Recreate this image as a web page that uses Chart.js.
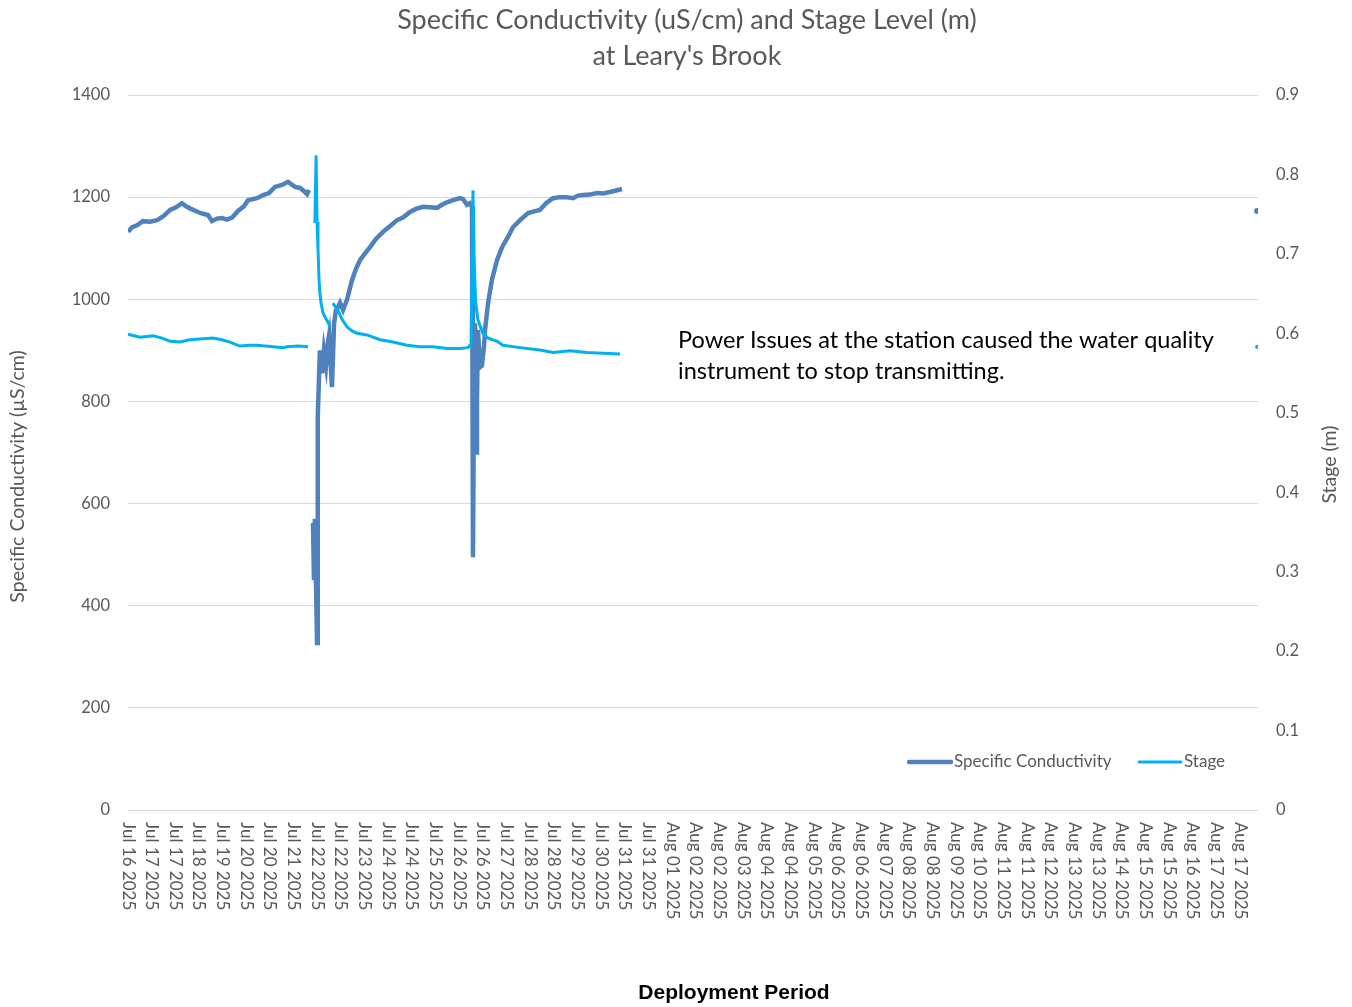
<!DOCTYPE html>
<html>
<head>
<meta charset="utf-8">
<title>Specific Conductivity and Stage Level at Leary's Brook</title>
<script src="https://cdn.jsdelivr.net/npm/chart.js@4.4.1/dist/chart.umd.min.js"></script>
<style>
    html, body { margin: 0; padding: 0; background: #ffffff; }
</style>
</head>
<body>
<canvas id="myChart" width="1352" height="1007"></canvas>
<script>
// x values are positions along the date axis, in label steps (0 = first label)
const tickLabels = [
    "Jul 16 2025", "Jul 17 2025", "Jul 17 2025", "Jul 18 2025", "Jul 19 2025", "Jul 20 2025",
    "Jul 20 2025", "Jul 21 2025", "Jul 22 2025", "Jul 22 2025", "Jul 23 2025", "Jul 24 2025",
    "Jul 24 2025", "Jul 25 2025", "Jul 26 2025", "Jul 26 2025", "Jul 27 2025", "Jul 28 2025",
    "Jul 28 2025", "Jul 29 2025", "Jul 30 2025", "Jul 31 2025", "Jul 31 2025", "Aug 01 2025",
    "Aug 02 2025", "Aug 02 2025", "Aug 03 2025", "Aug 04 2025", "Aug 04 2025", "Aug 05 2025",
    "Aug 06 2025", "Aug 06 2025", "Aug 07 2025", "Aug 08 2025", "Aug 08 2025", "Aug 09 2025",
    "Aug 10 2025", "Aug 11 2025", "Aug 11 2025", "Aug 12 2025", "Aug 13 2025", "Aug 13 2025",
    "Aug 14 2025", "Aug 15 2025", "Aug 15 2025", "Aug 16 2025", "Aug 17 2025", "Aug 17 2025"
]

const scTime = [
    0.00, 0.17, 0.38, 0.63, 0.93, 1.23, 1.48, 1.78, 2.03, 2.28, 2.45, 2.62, 3.04, 3.38, 3.55,
    3.76, 3.97, 4.18, 4.40, 4.65, 4.90, 5.07, 5.45, 5.71, 5.96, 6.21, 6.51, 6.76, 7.06, 7.27,
    7.48, 7.57, 7.65, 7.72,
    7.82, 7.86, 7.90, 7.99, 8.01, 8.03, 8.11, 8.20, 8.28, 8.37, 8.45, 8.50, 8.62, 8.71, 8.79,
    8.88, 8.96, 9.09, 9.26, 9.47, 9.64, 9.81, 10.02, 10.23, 10.48, 10.78, 11.07, 11.37, 11.62,
    11.92, 12.17, 12.47, 12.76, 13.06, 13.27, 13.48, 13.74, 14.03, 14.16, 14.33, 14.45, 14.54,
    14.58, 14.62, 14.67, 14.71, 14.75, 14.79, 14.88, 14.96, 15.05, 15.09, 15.22, 15.38, 15.60,
    15.81, 16.06, 16.27, 16.57, 16.91, 17.16, 17.41, 17.67, 17.96, 18.26, 18.51, 18.81, 19.02,
    19.23, 19.53, 19.82, 20.08, 20.37, 20.63, 20.88, 21.00,
    47.72
]
const scValues = [
    1132, 1141, 1145, 1153, 1152, 1155, 1162, 1175, 1180, 1188, 1182, 1178, 1169, 1165, 1153,
    1158, 1159, 1156, 1160, 1173, 1182, 1194, 1198, 1204, 1208, 1220, 1224, 1230, 1220, 1218,
    1210, 1206, 1214, null,
    562, 450, 570, 327, 724, 770, 900, 855, 900, 870, 916, 930, 828, 953, 979,
    985, 993, 979, 1000, 1038, 1060, 1077, 1090, 1102, 1118, 1132, 1143, 1155, 1160,
    1171, 1177, 1181, 1180, 1179, 1185, 1190, 1194, 1198, 1196, 1185, 1188, 1181,
    495, 800, 953, 700, 803, 940, 867, 870, 910, 940, 993, 1038, 1077,
    1102, 1122, 1141, 1155, 1169, 1172, 1175, 1188, 1198, 1200, 1200, 1198, 1203,
    1204, 1205, 1208, 1207, 1210, 1213, 1216, null,
    1173
]

const stageTime = [
    0.00, 0.25, 0.51, 1.06, 1.44, 1.78, 2.20, 2.62, 3.04, 3.59, 3.97, 4.31, 4.73, 5.17, 5.45,
    5.79, 6.13, 6.55, 6.72, 7.19, 7.61, 7.75,
    7.90, 7.95, 7.99, 8.03, 8.07, 8.11, 8.16, 8.24, 8.37, 8.45, 8.54, 8.60,
    8.66, 8.75, 8.88, 9.04, 9.26, 9.47, 9.68, 10.10, 10.65, 11.20, 11.79, 12.34, 12.89, 13.48,
    14.03, 14.37, 14.50,
    14.58, 14.62, 14.69, 14.79, 15.00, 15.22, 15.60, 15.85, 16.57, 17.41, 17.96, 18.68, 19.40,
    20.08, 20.80, 21.00,
    47.72
]
const stageValues = [
    0.599, 0.597, 0.595, 0.597, 0.594, 0.590, 0.589, 0.592, 0.593, 0.594, 0.592, 0.589, 0.584,
    0.585, 0.585, 0.584, 0.583, 0.582, 0.583, 0.584, 0.583, null,
    0.739, 0.824, 0.740, 0.707, 0.670, 0.651, 0.638, 0.626, 0.618, 0.614, 0.608, null,
    0.638, 0.634, 0.629, 0.618, 0.608, 0.603, 0.600, 0.598, 0.592, 0.589, 0.585, 0.583, 0.583,
    0.581, 0.581, 0.582, 0.587,
    0.780, 0.700, 0.640, 0.617, 0.600, 0.594, 0.590, 0.585, 0.582, 0.579, 0.576, 0.578, 0.576,
    0.575, 0.574, null,
    0.583
]

const titleLines = ["Specific Conductivity (uS/cm) and Stage Level (m)", "at Leary's Brook"]

function toPoints(times, values) {
    return times.map((t, i) => ({ x: t, y: values[i] }))
}

// Excel shows a marker only where a reading has no neighbours to connect to
function lonelyPointRadius(size) {
    return (context) => {
        const data = context.dataset.data
        const i = context.dataIndex
        const prev = data[i - 1]
        const next = data[i + 1]
        const lonely = (!prev || prev.y === null) && (!next || next.y === null)
        return lonely ? size : 0
    }
}

const textColor = "#595959"
const gridColor = "#d9d9d9"

const chartText = {
    id: "chartText",
    afterDraw(chart) {
        const ctx = chart.ctx
        const area = chart.chartArea
        const xScale = chart.scales.x
        const yScale = chart.scales.y
        ctx.save()
        ctx.textBaseline = "middle"

        // title, centred a little right of the canvas middle as in the original
        ctx.font = "27px Lato"
        ctx.fillStyle = textColor
        ctx.textAlign = "center"
        titleLines.forEach((line, i) => {
            ctx.fillText(line, chart.width / 2 + 11, 20 + i * 36)
        })

        // date labels, read top to bottom like the original
        ctx.font = "17px Lato"
        ctx.textAlign = "left"
        xScale.ticks.forEach((tick) => {
            ctx.save()
            ctx.translate(xScale.getPixelForValue(tick.value), area.bottom + 12)
            ctx.rotate(Math.PI / 2)
            ctx.fillText(tickLabels[tick.value], 0, 0)
            ctx.restore()
        })

        // axis titles
        ctx.font = "19.5px Lato"
        ctx.textAlign = "center"
        const midY = (area.top + area.bottom) / 2
        ctx.save()
        ctx.translate(18, midY + 24)
        ctx.rotate(-Math.PI / 2)
        ctx.fillText("Specific Conductivity (µS/cm)", 0, 0)
        ctx.restore()
        ctx.save()
        ctx.translate(area.right + 72, midY + 12)
        ctx.rotate(-Math.PI / 2)
        ctx.fillText("Stage (m)", 0, 0)
        ctx.restore()

        ctx.font = "bold 21px 'Liberation Sans'"
        ctx.fillStyle = "#000000"
        ctx.fillText("Deployment Period", (area.left + area.right) / 2 + 41, 993)

        // note about the outage
        ctx.font = "23.5px Lato"
        ctx.textAlign = "left"
        const noteX = xScale.getPixelForValue(23.25)
        const noteY = yScale.getPixelForValue(920)
        ctx.fillText("Power Issues at the station caused the water quality", noteX, noteY)
        ctx.fillText("instrument to stop transmitting.", noteX, noteY + 31)

        // legend in the lower right of the plot
        const legendY = area.bottom - 48
        const legendX = [area.right - 349, area.right - 119]
        chart.data.datasets.forEach((dataset, i) => {
            ctx.strokeStyle = dataset.borderColor
            ctx.lineWidth = dataset.borderWidth
            ctx.lineCap = "round"
            ctx.beginPath()
            ctx.moveTo(legendX[i], legendY)
            ctx.lineTo(legendX[i] + 42, legendY)
            ctx.stroke()
            ctx.font = "17px Lato"
            ctx.fillStyle = textColor
            ctx.fillText(dataset.label, legendX[i] + 45, legendY)
        })

        ctx.restore()
    }
}

new Chart(document.getElementById("myChart"), {
    type: "line",
    data: {
        datasets: [{
            label: "Specific Conductivity",
            data: toPoints(scTime, scValues),
            borderColor: "#4F81BD",
            backgroundColor: "#4F81BD",
            borderWidth: 4.5,
            pointRadius: lonelyPointRadius(3),
            pointBorderWidth: 0,
            yAxisID: "y",
            spanGaps: false,
            order: 2
        }, {
            label: "Stage",
            data: toPoints(stageTime, stageValues),
            borderColor: "#00B0F0",
            backgroundColor: "#00B0F0",
            borderWidth: 3,
            pointRadius: lonelyPointRadius(2),
            pointBorderWidth: 0,
            yAxisID: "y2",
            spanGaps: false,
            order: 1
        }]
    },
    options: {
        responsive: false,
        animation: false,
        devicePixelRatio: 1,
        layout: { padding: { top: 95 } },
        plugins: {
            legend: { display: false },
            tooltip: { enabled: false },
            title: { display: false }
        },
        scales: {
            x: {
                type: "linear",
                min: 0,
                max: 47.76,
                afterBuildTicks: (scale) => {
                    scale.ticks = tickLabels.map((label, i) => ({ value: i }))
                },
                afterFit: (scale) => { scale.height = 197 },
                ticks: { display: false },
                grid: { display: false },
                border: { display: false }
            },
            y: {
                position: "left",
                min: 0,
                max: 1400,
                afterFit: (scale) => { scale.width = 128 },
                ticks: {
                    stepSize: 200,
                    padding: 18,
                    color: textColor,
                    font: { family: "Lato", size: 16.5 },
                    callback: (value) => String(value)
                },
                grid: { color: gridColor, lineWidth: 1, drawTicks: false },
                border: { display: false }
            },
            y2: {
                position: "right",
                min: 0,
                max: 0.9,
                afterFit: (scale) => { scale.width = 94 },
                ticks: {
                    stepSize: 0.1,
                    padding: 18,
                    color: textColor,
                    font: { family: "Lato", size: 16.5 },
                    callback: (value) => value === 0 ? "0" : value.toFixed(1)
                },
                grid: { drawOnChartArea: false, drawTicks: false },
                border: { display: false }
            }
        }
    },
    plugins: [chartText]
})
</script>
</body>
</html>
